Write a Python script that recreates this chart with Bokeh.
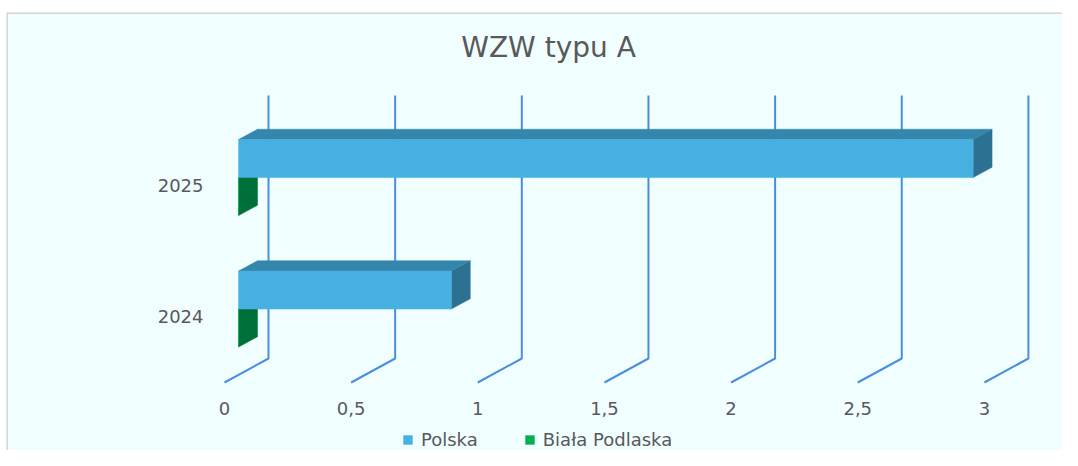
from bokeh.plotting import figure
from bokeh.models import Range1d, Legend, LegendItem, Span
from bokeh.core.properties import value
from bokeh.embed import file_html
from bokeh.resources import INLINE

# ---------------- data ----------------
title_text = "WZW typu A"
categories = ["2024", "2025"]
series_names = ["Polska", "Biała Podlaska"]
polska = [0.84, 2.9]
biala_podlaska = [0.0, 0.0]
ticks = [0, 0.5, 1, 1.5, 2, 2.5, 3]
tick_labels = ["0", "0,5", "1", "1,5", "2", "2,5", "3"]

# ---------------- layout / styles ----------------
W, H = 1062, 450
LEFT_BORDER = 6
TOP_BORDER = 12
FRAME_W = W - LEFT_BORDER
FRAME_H = H - TOP_BORDER
PX_X = 253.3          # pixels per value unit
PX_Y = 131.5          # pixels per category slot
X0_PX = 224 - LEFT_BORDER   # frame px where value 0 (front) sits
Y0_PX = H - 382             # frame px from bottom where floor front sits
DX = 44 / PX_X        # full depth shift (x)
DY = 24 / PX_Y        # full depth shift (y)
F1, F2 = 0.32, 0.75   # bar depth (front, back) fractions
BAR_H = 0.289         # bar thickness in category units
N_CAT = len(categories)

FONT_NAME = "DejaVu Sans"
FONT = value(FONT_NAME)
TXT = "#595959"
GRID = "#4A8FDD"
styles = [
    dict(front="#46B1E1", top="#3486AD", side="#2C7191"),
    dict(front="#00B050", top="#008A3E", side="#00703A"),
]

p = figure(width=W, height=H, output_backend="svg", toolbar_location=None,
           x_range=Range1d(-X0_PX / PX_X, (FRAME_W - X0_PX) / PX_X),
           y_range=Range1d(-Y0_PX / PX_Y, (FRAME_H - Y0_PX) / PX_Y),
           x_axis_type=None, y_axis_type=None,
           min_border_left=LEFT_BORDER, min_border_right=0, min_border_bottom=0,
           min_border_top=TOP_BORDER)
p.background_fill_color = "#F0FEFF"
p.border_fill_color = "white"
p.outline_line_color = None
p.grid.visible = False

# outer border (top / left)
p.add_layout(Span(location=p.y_range.end, dimension="width", line_color="#D6D6D6", line_width=3))
p.add_layout(Span(location=p.x_range.start, dimension="height", line_color="#D6D6D6", line_width=3))

# ---------------- gridlines (back wall + floor diagonals) ----------------
gx, gy = [], []
for t in ticks:
    gx.append([t, t + DX, t + DX])
    gy.append([0, DY, N_CAT + DY])
p.multi_line(gx, gy, line_color=GRID, line_width=2)

# ---------------- bars ----------------
ox1, oy1 = F1 * DX, F1 * DY
ox2, oy2 = F2 * DX, F2 * DY

front_renderers = []
order = [1, 0]
series_vals = [polska, biala_podlaska]
for s in order:
    vals = series_vals[s]
    st = styles[s]
    fx, fy, tx, ty, sx, sy = [], [], [], [], [], []
    for i, v in enumerate(vals):
        c = i + 0.5
        if s == 0:
            y0, y1 = c, c + BAR_H
        else:
            y0, y1 = c - BAR_H, c
        fx.append([ox1, v + ox1, v + ox1, ox1])
        fy.append([y0 + oy1, y0 + oy1, y1 + oy1, y1 + oy1])
        tx.append([ox1, v + ox1, v + ox2, ox2])
        ty.append([y1 + oy1, y1 + oy1, y1 + oy2, y1 + oy2])
        sx.append([v + ox1, v + ox2, v + ox2, v + ox1])
        sy.append([y0 + oy1, y0 + oy2, y1 + oy2, y1 + oy1])
    p.patches(sx, sy, fill_color=st["side"], line_color=st["side"], line_width=0.5)
    p.patches(tx, ty, fill_color=st["top"], line_color=st["top"], line_width=0.5)
    r = p.patches(fx, fy, fill_color=st["front"], line_color=st["front"], line_width=0.5)
    front_renderers.append((s, r))

front_renderers.sort(key=lambda a: a[0])

# ---------------- text ----------------
p.text(x=[(548 - 224) / PX_X], y=[(382 - 47) / PX_Y], text=[title_text],
       text_font=FONT, text_font_size="28px", text_color=TXT,
       text_align="center", text_baseline="middle")

p.text(x=[0] * N_CAT, y=[i + 0.5 for i in range(N_CAT)], text=categories,
       x_offset=-21, text_font=FONT, text_font_size="18px", text_color=TXT,
       text_align="right", text_baseline="middle")

p.text(x=ticks, y=[-26 / PX_Y] * len(ticks), text=tick_labels,
       text_font=FONT, text_font_size="18px", text_color=TXT,
       text_align="center", text_baseline="middle")

# ---------------- legend ----------------
legend = Legend(items=[LegendItem(label=series_names[s], renderers=[r]) for s, r in front_renderers],
                orientation="horizontal", location=(402 - LEFT_BORDER, 0),
                glyph_width=11, glyph_height=11, label_standoff=8, spacing=46,
                padding=0, margin=0, label_height=20,
                background_fill_alpha=0, border_line_color=None,
                label_text_font=FONT_NAME, label_text_font_size="18px", label_text_color=TXT)
p.add_layout(legend, "center")

open("out.html", "w").write(file_html(p, INLINE))
